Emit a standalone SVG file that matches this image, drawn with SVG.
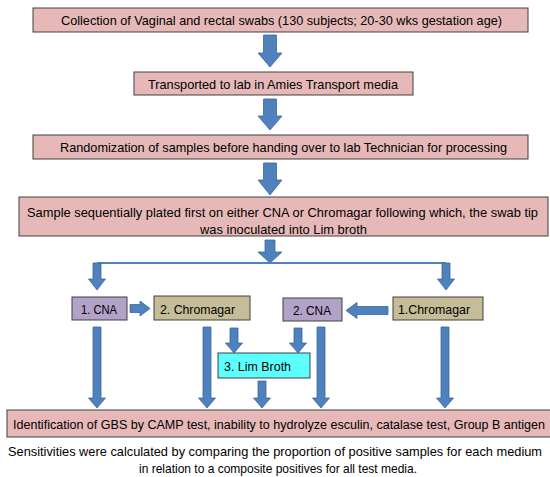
<svg xmlns="http://www.w3.org/2000/svg" width="550" height="477" viewBox="0 0 550 477">
<style>
text{font-family:"Liberation Sans",Arial,sans-serif;font-size:13px;fill:#000}
.sm{font-size:12.5px}
.cap{font-size:12.8px}
.pink{fill:#E6B9B8;stroke:#404040;stroke-width:1}
.purple{fill:#B3A2C7;stroke:#404040;stroke-width:1}
.tan{fill:#C4BD97;stroke:#404040;stroke-width:1}
.cyan{fill:#5CFFFF;stroke:#404040;stroke-width:1}
.arr{fill:#4F81BD;stroke:#3A67A0;stroke-width:0.8}
.line{fill:none;stroke:#4F81BD;stroke-width:2}
</style>
<rect width="550" height="477" fill="#fff"/>
<g id="n1"><rect class="pink" x="33" y="8" width="495" height="24"/><text x="61" y="25" textLength="441" lengthAdjust="spacingAndGlyphs">Collection of Vaginal and rectal swabs  (130 subjects; 20-30 wks gestation age)</text></g>
<g id="n2"><rect class="pink" x="134" y="72" width="279" height="23"/><text x="148" y="88.5" textLength="250" lengthAdjust="spacingAndGlyphs">Transported to lab in Amies Transport media</text></g>
<g id="n3"><rect class="pink" x="33" y="135" width="495" height="24"/><text x="60" y="152" textLength="447" lengthAdjust="spacingAndGlyphs">Randomization of samples before handing over to lab Technician for processing</text></g>
<g id="n4"><rect class="pink" x="19" y="197" width="529" height="39"/><text x="27" y="216.5" textLength="511" lengthAdjust="spacingAndGlyphs">Sample sequentially plated  first on either CNA or Chromagar following which, the swab tip</text><text x="200" y="234" textLength="167" lengthAdjust="spacingAndGlyphs">was inoculated into Lim broth</text></g>
<g id="n5"><rect class="purple" x="72" y="297" width="55" height="23"/><text x="81" y="313.5" textLength="36" lengthAdjust="spacingAndGlyphs">1. CNA</text></g>
<g id="n6"><rect class="tan" x="154" y="296" width="96" height="24"/><text x="160" y="313.5" textLength="75" lengthAdjust="spacingAndGlyphs">2. Chromagar</text></g>
<g id="n7"><rect class="purple" x="283" y="298" width="59" height="23"/><text x="293" y="314.5" textLength="38" lengthAdjust="spacingAndGlyphs">2. CNA</text></g>
<g id="n8"><rect class="tan" x="393" y="297" width="90" height="23"/><text x="398" y="313.5" textLength="72" lengthAdjust="spacingAndGlyphs">1.Chromagar</text></g>
<g id="n9"><rect class="cyan" x="218" y="353" width="92" height="25"/><text x="224" y="370.5" textLength="67" lengthAdjust="spacingAndGlyphs">3. Lim Broth</text></g>
<g id="n10"><rect class="pink" x="7" y="410" width="545" height="27"/><text class="sm" x="13" y="428.5" textLength="532" lengthAdjust="spacingAndGlyphs">Identification of GBS by CAMP test, inability to hydrolyze esculin, catalase test, Group B antigen</text></g>
<g id="caption"><text class="cap" x="8" y="456" textLength="534" lengthAdjust="spacingAndGlyphs">Sensitivities were calculated by comparing the proportion of positive samples for each medium</text><text class="cap" x="139" y="473" textLength="278" lengthAdjust="spacingAndGlyphs">in relation to a composite positives for all test media.</text></g>
<g id="connectors">
<path class="arr" d="M263.5,35 H276.5 V53 H282 L270,67 L258,53 H263.5 Z"/>
<path class="arr" d="M263.5,99 H276.5 V116 H282 L270,130 L258,116 H263.5 Z"/>
<path class="arr" d="M263.5,163 H276.5 V180 H282 L270,195 L258,180 H263.5 Z"/>
<path class="arr" d="M265,240 H275 V252 H282 L270,263 L258,252 H265 Z"/>
<polyline class="line" points="97,263 446,263"/>
<path class="arr" d="M93,263 H101 V279 H105.5 L97,290 L88.5,279 H93 Z"/>
<path class="arr" d="M442,263 H450 V279 H454.5 L446,290 L437.5,279 H442 Z"/>
<path class="arr" d="M130,304.5 H140 V301 L150,308.5 L140,316 V312.5 H130 Z"/>
<path class="arr" d="M388,306.5 H357 V302.5 L346,310.5 L357,318.5 V314.5 H388 Z"/>
<path class="arr" d="M93,327 H101 V398 H105.5 L97,408 L88.5,398 H93 Z"/>
<path class="arr" d="M203,327 H211 V398 H215.5 L207,408 L198.5,398 H203 Z"/>
<path class="arr" d="M230,328 H238 V343 H242.5 L234,353 L225.5,343 H230 Z"/>
<path class="arr" d="M294,328 H302 V343 H306.5 L298,353 L289.5,343 H294 Z"/>
<path class="arr" d="M317,327 H325 V398 H329.5 L321,408 L312.5,398 H317 Z"/>
<path class="arr" d="M441,327 H449 V398 H453.5 L445,408 L436.5,398 H441 Z"/>
<path class="arr" d="M258,381 H266 V398 H270.5 L262,408 L253.5,398 H258 Z"/>
</g>
</svg>
